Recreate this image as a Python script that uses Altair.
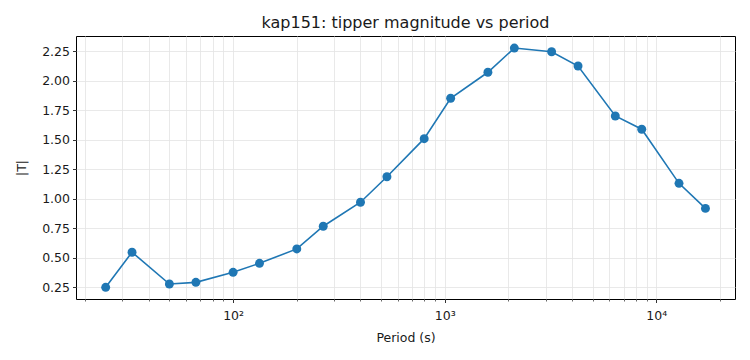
import altair as alt
import pandas as pd

# Tipper magnitude per period for station kap151
periods = [25, 33.3, 50, 66.7, 100, 133.3, 200, 266.7, 400, 533.3,
           800, 1066.7, 1600, 2133.3, 3200, 4266.7, 6400, 8533.3, 12800, 17066.7]
tipper = [0.25, 0.547, 0.278, 0.292, 0.377, 0.453, 0.575, 0.767, 0.97, 1.186,
          1.508, 1.85, 2.07, 2.275, 2.244, 2.123, 1.70, 1.588, 1.13, 0.918]

y_ticks = [0.25, 0.5, 0.75, 1.0, 1.25, 1.5, 1.75, 2.0, 2.25]
x_ticks = [m * 10 ** e for e in (1, 2, 3, 4) for m in range(1, 10)
           if 18 <= m * 10 ** e <= 23500]

df = pd.DataFrame({"period": periods, "T": tipper})

FONT = "DejaVu Sans"
BLUE = "#1f77b4"
major = "datum.value == 100 || datum.value == 1000 || datum.value == 10000"

x_enc = alt.X(
    "period:Q",
    title="Period (s)",
    scale=alt.Scale(type="log", domain=[18.1, 23540], nice=False),
    axis=alt.Axis(
        values=x_ticks,
        labelExpr="datum.value == 100 ? '10²' : datum.value == 1000 ? '10³' : datum.value == 10000 ? '10⁴' : ''",
        tickSize={"condition": {"test": major, "value": 3.5}, "value": 2},
        tickWidth={"condition": {"test": major, "value": 0.8}, "value": 0.6},
    ),
)
y_enc = alt.Y(
    "T:Q",
    title="|T|",
    scale=alt.Scale(domain=[0.151, 2.377], nice=False, zero=False),
    axis=alt.Axis(values=y_ticks, format=".2f"),
)

line = alt.Chart(df).mark_line(color=BLUE, strokeWidth=1.6).encode(x=x_enc, y=y_enc)
pts = alt.Chart(df).mark_circle(color=BLUE, size=80, opacity=1).encode(x=x_enc, y=y_enc)

chart = (
    alt.layer(line, pts)
    .properties(
        width=659,
        height=263,
        title=alt.TitleParams("kap151: tipper magnitude vs period", font=FONT,
                              fontSize=16, fontWeight="normal", color="#1a1a1a",
                              offset=5),
        autosize=alt.AutoSizeParams(type="none"),
        padding={"left": 76, "top": 36, "right": 15, "bottom": 61},
    )
    .configure_view(stroke="black", strokeWidth=1)
    .configure_axis(
        domain=False,
        grid=True,
        gridColor="#e3e3e3",
        gridWidth=0.8,
        tickColor="black",
        tickSize=3.5,
        tickWidth=0.8,
        labelFont=FONT,
        labelFontSize=12.5,
        labelColor="#1a1a1a",
        labelPadding=3,
        titleFont=FONT,
        titleFontSize=12.5,
        titleFontWeight="normal",
        titleColor="#1a1a1a",
    )
    .configure_axisX(titlePadding=9, labelPadding=7)
    .configure_axisY(titlePadding=13)
)

chart.save("out.html", embed_options={"renderer": "svg", "actions": False})
